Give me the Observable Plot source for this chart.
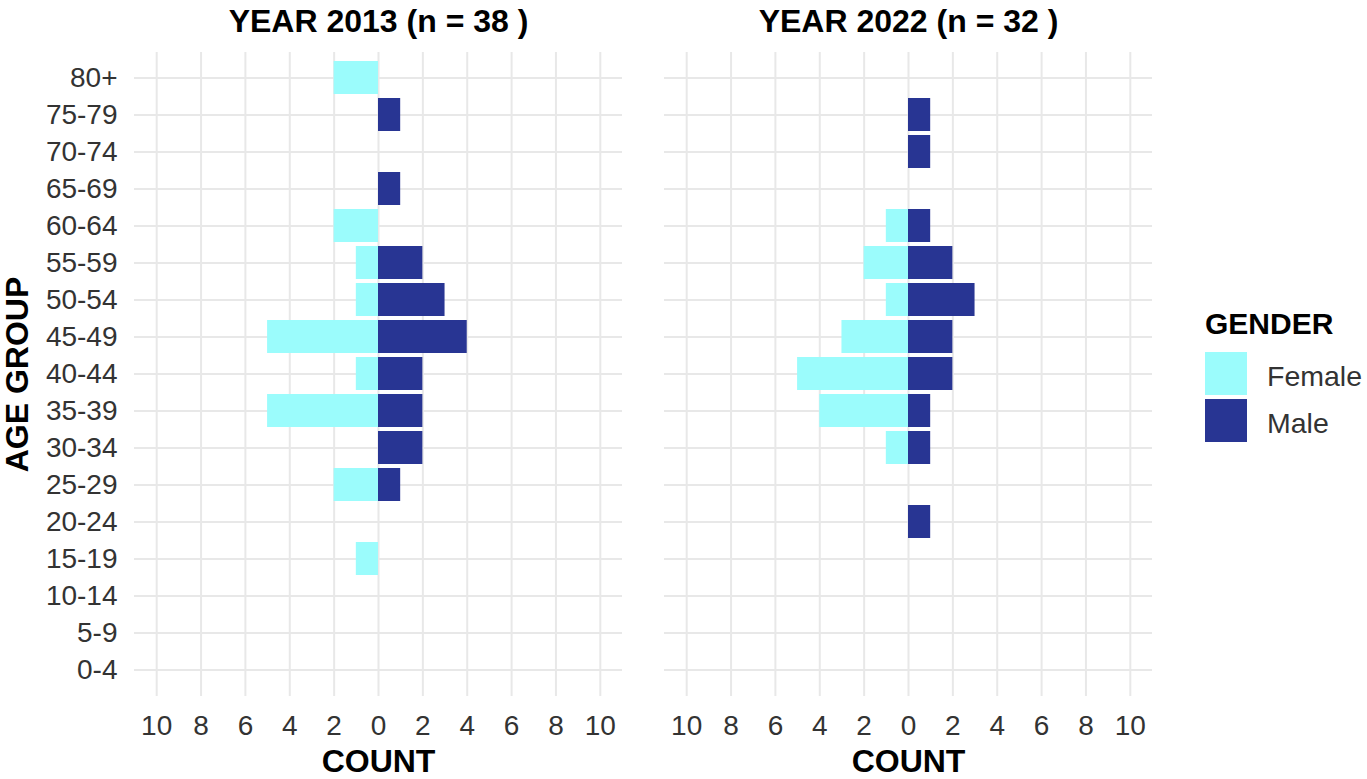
<!DOCTYPE html>
<html>
<head>
<meta charset="utf-8">
<script src="https://cdn.jsdelivr.net/npm/d3@7"></script>
<script src="https://cdn.jsdelivr.net/npm/@observablehq/plot@0.6"></script>
<style>
  html, body { margin: 0; padding: 0; background: #fff; }
  #wrap { position: relative; width: 1367px; height: 779px; font-family: "Liberation Sans", Arial, sans-serif; }
  #legend { position: absolute; left: 1205px; top: 309px; }
  #legend .title { font-size: 30px; font-weight: bold; line-height: 30px; color: #000; margin-bottom: 13px; }
  #legend .row { display: flex; align-items: center; height: 43px; margin-bottom: 4px; }
  #legend .sw { width: 42px; height: 43px; }
  #legend .lab { margin-left: 20px; font-size: 28.5px; color: #333; position: relative; top: 3px; white-space: nowrap; }
</style>
</head>
<body>
<div id="wrap"></div>
<script>
const ageGroups = ["0-4","5-9","10-14","15-19","20-24","25-29","30-34","35-39","40-44","45-49","50-54","55-59","60-64","65-69","70-74","75-79","80+"];
const panels = ["YEAR 2013 (n = 38 )", "YEAR 2022 (n = 32 )"];
const genders = ["Female", "Male"];
const genderColors = ["#9bfcfc", "#283593"];
const female2013 = [0,0,0,1,0,2,0,5,1,5,1,1,2,0,0,0,2];
const male2013   = [0,0,0,0,0,1,2,2,2,4,3,2,0,1,0,1,0];
const female2022 = [0,0,0,0,0,0,1,4,5,3,1,2,1,0,0,0,0];
const male2022   = [0,0,0,0,1,0,1,1,2,2,3,2,1,0,1,1,0];
const xTicks = [-10,-8,-6,-4,-2,0,2,4,6,8,10];

const series = [
  {panel: panels[0], female: female2013, male: male2013},
  {panel: panels[1], female: female2022, male: male2022}
];
const rows = [];
for (const s of series) {
  ageGroups.forEach((age, i) => {
    if (s.female[i] > 0) rows.push({panel: s.panel, age, sex: "Female", value: -s.female[i]});
    if (s.male[i] > 0) rows.push({panel: s.panel, age, sex: "Male", value: s.male[i]});
  });
}

const grid = {stroke: "#e8e8e8", strokeOpacity: 1, strokeWidth: 2};

const plot = Plot.plot({
  width: 1367,
  height: 779,
  marginLeft: 133,
  marginRight: 214,
  marginTop: 52,
  marginBottom: 83,
  style: {fontFamily: "'Liberation Sans', Arial, sans-serif", fontSize: "28px", background: "white", color: "#333"},
  fx: {domain: panels, paddingInner: 0.079, paddingOuter: 0, axis: null},
  x: {domain: [-11, 11], axis: null},
  y: {domain: ageGroups.slice().reverse(), paddingInner: 0.1, paddingOuter: 0.15, axis: null},
  color: {domain: genders, range: genderColors},
  marks: [
    Plot.gridY({...grid}),
    Plot.gridX({ticks: xTicks, ...grid}),
    Plot.barX(rows, {fx: "panel", y: "age", x1: 0, x2: "value", fill: "sex"}),
    Plot.axisX({ticks: xTicks, tickFormat: d => Math.abs(d), tickSize: 0, tickPadding: 19, label: null, fontSize: 28, fill: "#333"}),
    Plot.axisY({tickSize: 0, tickPadding: 17, label: null, fontSize: 28, fill: "#333"}),
    Plot.text(panels, {fx: d => d, text: d => d, frameAnchor: "top", lineAnchor: "middle", dy: -31, fontWeight: "bold", fontSize: 32, fill: "#000"}),
    Plot.text(panels, {fx: d => d, text: () => "COUNT", frameAnchor: "bottom", lineAnchor: "middle", dy: 65, fontWeight: "bold", fontSize: 32, fill: "#000"}),
    Plot.text([panels[0]], {fx: d => d, text: () => "AGE GROUP", frameAnchor: "left", textAnchor: "middle", lineAnchor: "middle", dx: -117, rotate: -90, fontWeight: "bold", fontSize: 32, fill: "#000"})
  ]
});

const wrap = document.getElementById("wrap");
wrap.appendChild(plot);

const color = plot.scale("color");
const legend = document.createElement("div");
legend.id = "legend";
const t = document.createElement("div");
t.className = "title";
t.textContent = "GENDER";
legend.appendChild(t);
color.domain.forEach((g, i) => {
  const row = document.createElement("div");
  row.className = "row";
  const sw = document.createElement("div");
  sw.className = "sw";
  sw.style.background = color.range[i];
  const lab = document.createElement("div");
  lab.className = "lab";
  lab.textContent = g;
  row.appendChild(sw);
  row.appendChild(lab);
  legend.appendChild(row);
});
wrap.appendChild(legend);
</script>
</body>
</html>
